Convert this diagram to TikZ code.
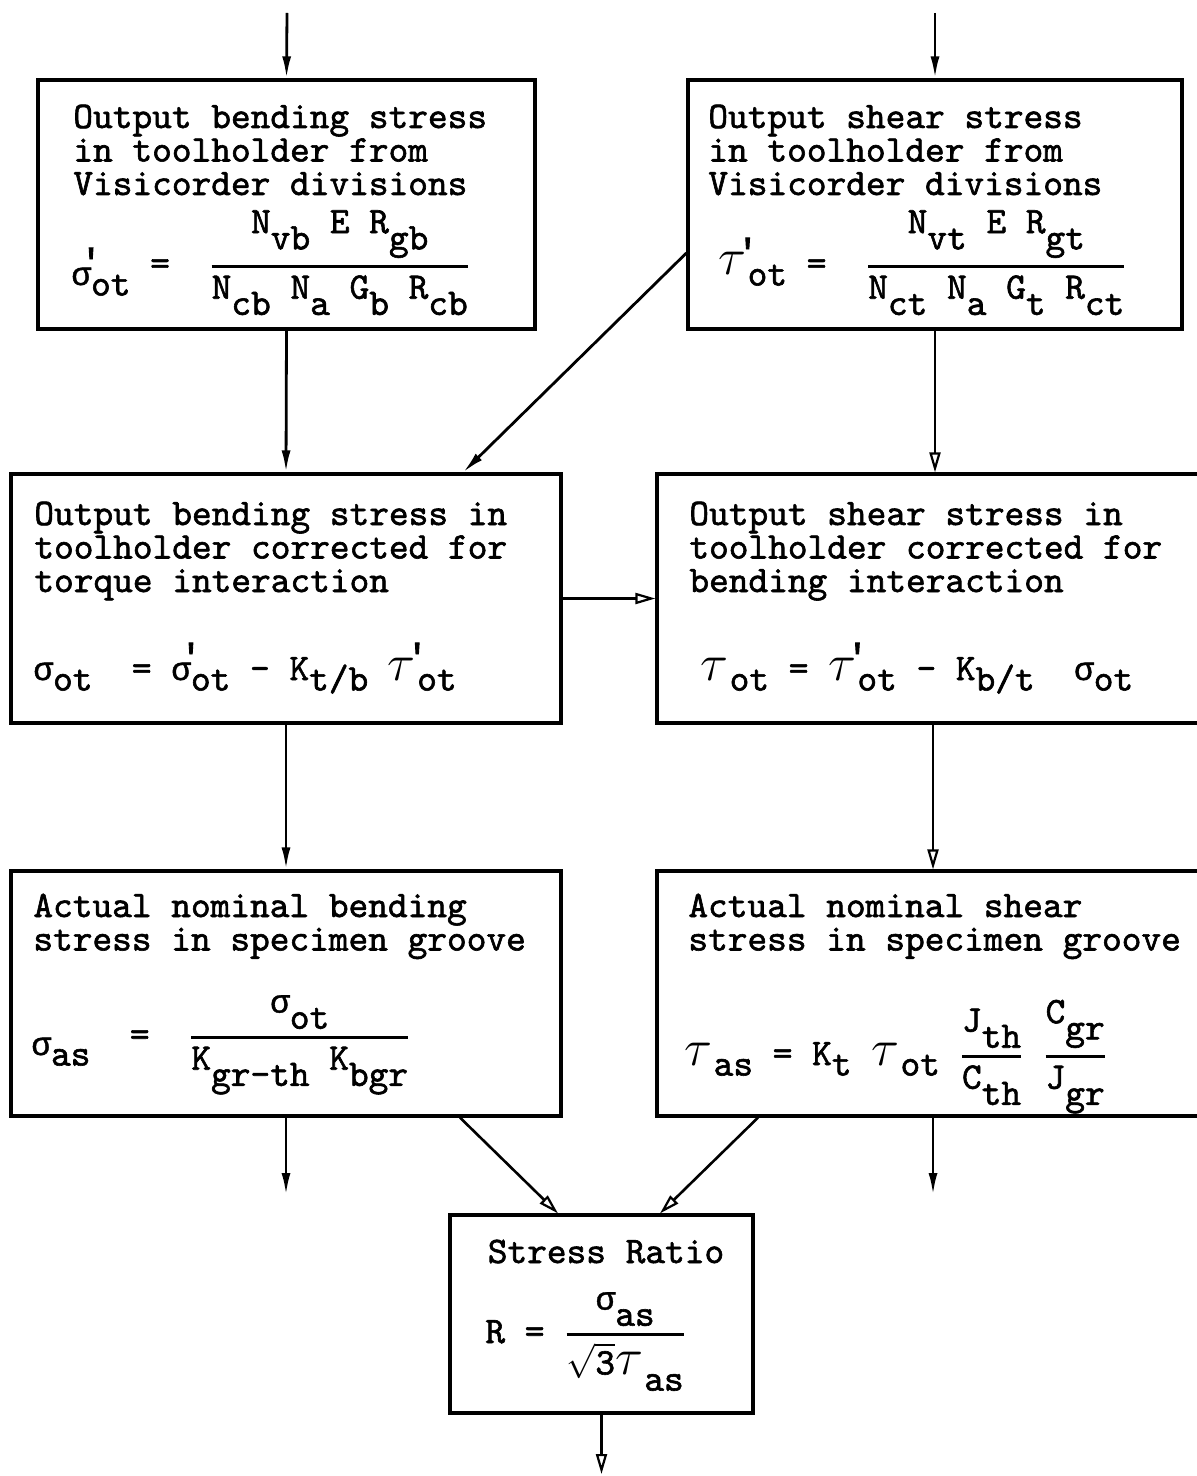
\documentclass[tikz,border=0pt]{standalone}
\usepackage{amsmath}
\usepackage{graphicx}
\usepackage{fontspec}
\setmainfont{lmmono10-regular.otf}[FakeBold=1.6]
\newfontfamily\grk{Liberation Mono}[Scale=0.875,FakeBold=1.2]
\newfontfamily\prk{Liberation Mono}[Scale=0.95,FakeBold=2.5]
\usetikzlibrary{arrows.meta,calc}
\newcommand\fs{\fontsize{18.76}{16.75}\selectfont}
\newcommand\sg{{\grk σ}}
\newcommand\dn[1]{\raisebox{-0.65ex}{#1}}
\newcommand\DN[1]{\raisebox{-1ex}{#1}}
\newcommand\pr{\makebox[0pt][c]{\raisebox{0.3em}{\prk '}}}
\newcommand\ta{\makebox[0.78em][l]{\scalebox{1.5}{$\tau$}}}
\newcommand\fr[2]{$\genfrac{}{}{1.2pt}{0}{\hbox{#1}}{\hbox{#2}}$}
\newcommand\sq{$\sqrt{\hbox{3}}$}
\tikzset{
  box/.style={draw, line width=1.6pt, rectangle, inner sep=0pt},
  txt/.style={anchor=base west, inner sep=0pt, font=\fs},
  farr/.style={line width=1.4pt, -{Latex[length=11pt,width=4.5pt]}},
  oarr/.style={line width=1.3pt, -{Triangle[open,length=10pt,width=5.5pt,line width=1.1pt]}},
}
\begin{document}
\begin{tikzpicture}[x=0.5pt,y=-0.5pt]
\useasboundingbox (0,0) rectangle (1196,1476);
% boxes
\node[box, minimum width=248.5pt, minimum height=124.5pt] (A) at (286.5,204.5) {};
\node[box, minimum width=247pt, minimum height=124.5pt] (B) at (935,204.5) {};
\node[box, minimum width=275pt, minimum height=124.5pt] (C) at (286,598.5) {};
\node[box, minimum width=276pt, minimum height=124.5pt] (D) at (933,598.5) {};
\node[box, minimum width=275pt, minimum height=122.5pt] (E) at (286,993.5) {};
\node[box, minimum width=276pt, minimum height=122.5pt] (F) at (933,993.5) {};
\node[box, minimum width=151.5pt, minimum height=99pt] (G) at (601.5,1314) {};
% texts
\node[txt] (tA) at (73,128) {\begin{tabular}[t]{@{}l@{}}Output bending stress\\in toolholder from\\Visicorder divisions\end{tabular}};
\node[txt] (tB) at (708,128) {\begin{tabular}[t]{@{}l@{}}Output shear stress\\in toolholder from\\Visicorder divisions\end{tabular}};
\node[txt] (tC) at (34,525) {\begin{tabular}[t]{@{}l@{}}Output bending stress in\\toolholder corrected for\\torque interaction\end{tabular}};
\node[txt] (tD) at (689,525) {\begin{tabular}[t]{@{}l@{}}Output shear stress in\\toolholder corrected for\\bending interaction\end{tabular}};
\node[txt] (tE) at (33,917) {\begin{tabular}[t]{@{}l@{}}Actual nominal bending\\stress in specimen groove\end{tabular}};
\node[txt] (tF) at (688,917) {\begin{tabular}[t]{@{}l@{}}Actual nominal shear\\stress in specimen groove\end{tabular}};
\node[txt, anchor=base] (tG) at (606,1263) {Stress Ratio};
% equations
\node[txt] (eA) at (71,275) {\raisebox{-5pt}{\sg\pr\dn{ot}} =~~\fr{N\DN{vb} E R\DN{gb}}{N\DN{cb} N\DN{a} G\DN{b} R\DN{cb}}};
\node[txt] (eB) at (718,275) {\ta\pr\dn{ot} =~~\fr{N\DN{vt} E R\DN{gt}}{N\DN{ct} N\DN{a} G\DN{t} R\DN{ct}}};
\node[txt] (eC) at (33,680) {\sg\dn{ot}~~= \sg\pr\dn{ot} - K\dn{t/b} \ta\pr\dn{ot}};
\node[txt] (eD) at (700,680) {\ta\dn{ot} = \ta\pr\dn{ot} - K\dn{b/t}~~\sg\dn{ot}};
\node[txt] (eE) at (31,1046) {\raisebox{-4.5pt}{\sg\dn{as}}~~=~~\fr{\sg\DN{ot}}{K\DN{gr-th} K\DN{bgr}}};
\node[txt] (eF) at (684,1065) {\ta\dn{as} = K\dn{t} \ta\dn{ot} \fr{J\DN{th}}{C\DN{th}} \fr{C\DN{gr}}{J\DN{gr}}};
\node[txt] (eG) at (485,1343) {R = \fr{\sg\DN{as}}{\sq\ta\DN{as}}};
% free ends
\coordinate (inA) at (287,13);
\coordinate (inB) at (935,13);
\coordinate (oE) at (286,1195);
\coordinate (oF) at (933,1195);
\coordinate (oG) at (601.5,1474);
% connectors
\draw[farr] (inA) -- (A.north);
\draw[farr] (inB) -- (B.north);
\draw[farr] (A.south) -- (C.north);
\draw[oarr] (B.south) -- (B.south |- D.north);
\draw[farr] ([yshift=-24.25pt]B.west) -- ([xshift=88.5pt]C.north);
\draw[oarr] (C.east) -- (D.west);
\draw[farr] (C.south) -- (E.north);
\draw[oarr] (D.south) -- (F.north);
\draw[farr] (E.south) -- (oE);
\draw[farr] (F.south) -- (oF);
\draw[oarr] ([xshift=87pt]E.south) -- ([xshift=-21.75pt]G.north);
\draw[oarr] ([xshift=-87.5pt]F.south) -- ([xshift=29.25pt]G.north);
\draw[oarr] (G.south) -- (oG);
\end{tikzpicture}
\end{document}
